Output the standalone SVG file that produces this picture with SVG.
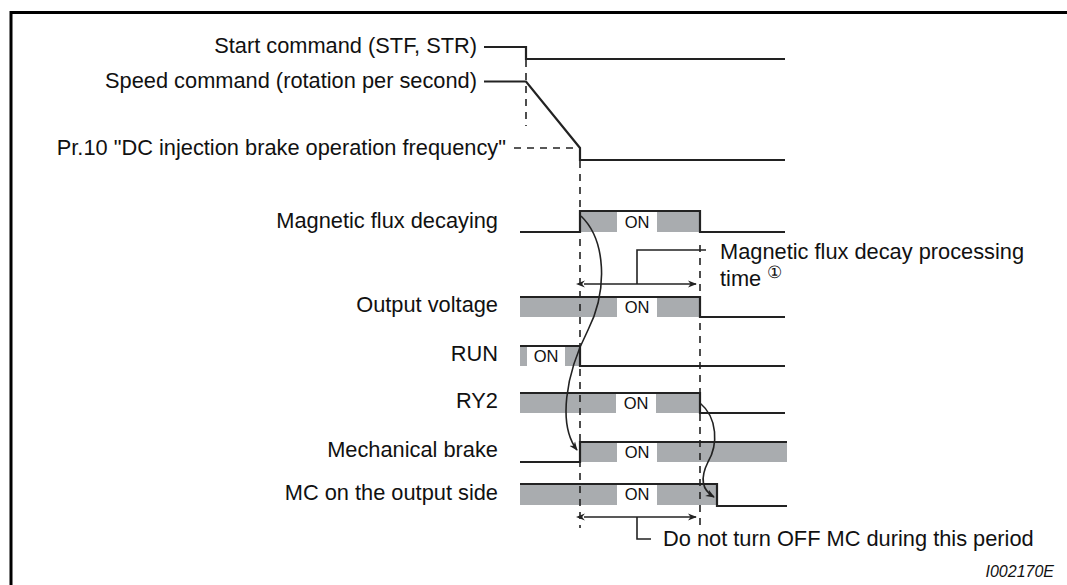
<svg xmlns="http://www.w3.org/2000/svg" width="1067" height="585" viewBox="0 0 1067 585">
<defs>
<style>
text{font-family:"Liberation Sans",Arial,sans-serif;font-size:21.8px;fill:#111}
.lbl{text-anchor:end}
.on{text-anchor:middle;font-size:16.5px}
.code{text-anchor:end;font-style:italic;font-size:16px}
.circ{font-size:17px}
.sig{fill:none;stroke:#222;stroke-width:2.2}
.thin{fill:none;stroke:#222;stroke-width:1.6}
.dash{fill:none;stroke:#222;stroke-width:1.6;stroke-dasharray:7,6}
.g{fill:#a9acaf}
.frame{fill:none;stroke:#000;stroke-width:3}
</style>
<marker id="ah" viewBox="0 0 10 10" refX="9" refY="5" markerWidth="9" markerHeight="9" orient="auto" markerUnits="userSpaceOnUse">
<path d="M0,1 L10,5 L0,9 L3,5 Z" fill="#222"/>
</marker>
<marker id="ahs" viewBox="0 0 10 10" refX="1" refY="5" markerWidth="9" markerHeight="9" orient="auto-start-reverse" markerUnits="userSpaceOnUse">
<path d="M0,1 L10,5 L0,9 L3,5 Z" fill="#222"/>
</marker>
</defs>
<rect width="1067" height="585" fill="#fff"/>
<path class="frame" d="M11,585 V12.5 H1067"/>

<g id="start">
<text class="lbl" x="477" y="53">Start command (STF, STR)</text>
<path class="sig" d="M484,47 H526 V59 H785"/>
</g>
<g id="speed">
<text class="lbl" x="477" y="88">Speed command (rotation per second)</text>
<path class="sig" d="M484,81.5 H526 L580,148 V160 H785"/>
</g>
<g id="pr10">
<text class="lbl" x="506" y="155">Pr.10 "DC injection brake operation frequency"</text>
</g>

<g id="flux">
<text class="lbl" x="498" y="228">Magnetic flux decaying</text>
<rect class="g" x="581" y="211" width="36" height="21"/>
<rect class="g" x="657" y="211" width="43" height="21"/>
<path class="sig" d="M520,232 H580 V211 H700 V232 H785"/>
<text class="on" x="637" y="228">ON</text>
</g>
<g id="fluxlabel">
<text x="720" y="259">Magnetic flux decay processing</text>
<text x="720" y="286">time <tspan class="circ" dy="-8">①</tspan></text>
</g>

<g id="outv">
<text class="lbl" x="498" y="312">Output voltage</text>
<rect class="g" x="520" y="297" width="97" height="20"/>
<rect class="g" x="657" y="297" width="43" height="20"/>
<path class="sig" d="M520,297 H700 V317 H785"/>
<text class="on" x="637" y="313">ON</text>
</g>

<g id="run">
<text class="lbl" x="498" y="361">RUN</text>
<rect class="g" x="520" y="346" width="7" height="20"/>
<rect class="g" x="565" y="346" width="15" height="20"/>
<path class="sig" d="M520,346 H580 V366 H785"/>
<text class="on" x="546" y="362">ON</text>
</g>

<g id="ry2">
<text class="lbl" x="498" y="408">RY2</text>
<rect class="g" x="520" y="393" width="96" height="20"/>
<rect class="g" x="656" y="393" width="44" height="20"/>
<path class="sig" d="M520,393 H700 V413 H785"/>
<text class="on" x="636" y="409">ON</text>
</g>

<g id="brake">
<text class="lbl" x="498" y="457">Mechanical brake</text>
<rect class="g" x="581" y="442" width="36" height="20"/>
<rect class="g" x="657" y="442" width="130" height="20"/>
<path class="sig" d="M520,462 H580 V442 H787"/>
<text class="on" x="637" y="458">ON</text>
</g>

<g id="mc">
<text class="lbl" x="498" y="500">MC on the output side</text>
<rect class="g" x="520" y="484" width="97" height="21"/>
<rect class="g" x="657" y="484" width="60" height="21"/>
<path class="sig" d="M520,484 H717 V506 H787"/>
<text class="on" x="637" y="500">ON</text>
</g>

<g id="periodlabel">
<text x="663" y="546">Do not turn OFF MC during this period</text>
</g>
<g id="code">
<text class="code" x="1054" y="577">I002170E</text>
</g>

<g id="connectors">
<path class="dash" d="M526,60 V126"/>
<path class="dash" d="M514,148 H579"/>
<path class="dash" d="M580,161 V528"/>
<path class="dash" d="M700,245 V529"/>
<path class="thin" d="M637,284 V250 H706"/>
<path class="thin" d="M584,284 H696" marker-start="url(#ahs)" marker-end="url(#ah)"/>
<path class="thin" d="M584,517 H696" marker-start="url(#ahs)" marker-end="url(#ah)"/>
<path class="thin" d="M637,517 V539 H651"/>
<path class="thin" d="M581,216 C606,240 608,290 588,330 C565,375 558,425 577,450" marker-end="url(#ah)"/>
<path class="thin" d="M700,403 C718,418 718,445 708,462 C700,478 702,490 714,497" marker-end="url(#ah)"/>
</g>
</svg>
